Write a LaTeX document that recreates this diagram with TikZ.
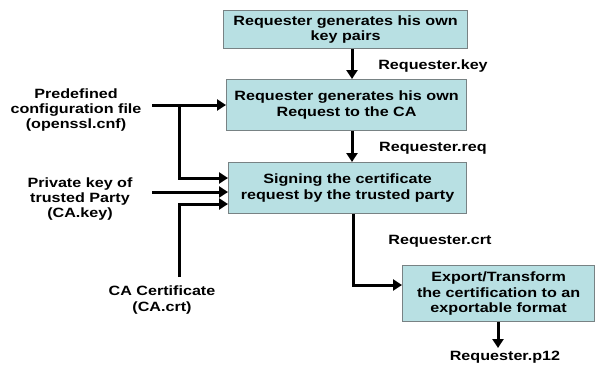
\documentclass[tikz,border=0pt]{standalone}
\usepackage{fontspec}
\setmainfont[FakeStretch=1.2]{Liberation Sans}
\usetikzlibrary{arrows.meta}
\definecolor{boxfill}{RGB}{184,224,227}
\definecolor{boxline}{RGB}{120,130,132}
\begin{document}
\begin{tikzpicture}[x=1bp,y=-1bp,
  every node/.style={font=\bfseries\fontsize{13.5}{15.5}\selectfont, align=center, inner sep=0pt},
  stepbox/.style={draw=boxline, line width=1.2bp, fill=boxfill, anchor=north west},
  flow/.style={line width=3bp, -{Triangle[length=9bp,width=11bp]}},
  wire/.style={line width=3bp}]
\useasboundingbox (0,0) rectangle (596,364);
% process boxes
\node[stepbox, minimum width=244bp, minimum height=38bp] (gen) at (223,10) {};
\node at (gen.center) {Requester generates his own\\key pairs};
\node[stepbox, minimum width=240bp, minimum height=51bp] (req) at (226,79) {};
\node at (req.center) {Requester generates his own\\Request to the CA};
\node[stepbox, minimum width=238bp, minimum height=51bp] (sign) at (228,162) {};
\node at (sign.center) {Signing the certificate\\request by the trusted party};
\node[stepbox, minimum width=192bp, minimum height=56bp] (exp) at (402,265) {};
\node at (exp.center) {Export/Transform\\the certification to an\\exportable format};
% inputs
\node (cnf) at (76,110) {Predefined\\configuration file\\(openssl.cnf)};
\node (cakey) at (80,199) {Private key of\\trusted Party\\(CA.key)};
\node (cacrt) at (162,300) {CA Certificate\\(CA.crt)};
% outputs / file labels
\node (lkey) at (433,66) {Requester.key};
\node (lreq) at (433,148) {Requester.req};
\node (lcrt) at (440,241) {Requester.crt};
\node (lp12) at (505,357) {Requester.p12};
% junction points
\coordinate (c1) at (152,105);
\coordinate (c2) at (179,105);
\coordinate (c3) at (152,192);
\coordinate (c4) at (179,277);
\coordinate (c5) at (498,348);
% main flow
\draw[flow] (gen.south -| 352,0) -- (req.north -| 352,0);
\draw[flow] (req.south -| 352,0) -- (sign.north -| 352,0);
\draw[flow] (sign.south -| 353,0) |- (exp.west |- 0,285);
\draw[flow] (exp.south -| c5) -- (c5);
% inputs into the boxes
\draw[flow] (c1) -- (req.west |- c1);
\draw[flow] (c2) |- (sign.west |- 0,178);
\draw[flow] (c3) -- (sign.west |- c3);
\draw[flow] (c4) |- (sign.west |- 0,204);
\end{tikzpicture}
\end{document}
